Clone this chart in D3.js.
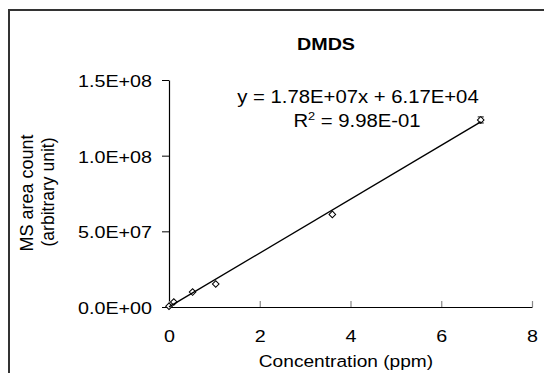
<!DOCTYPE html>
<html>
<head>
<meta charset="utf-8">
<script src="https://cdn.jsdelivr.net/npm/d3@7"></script>
<style>
  body { margin: 0; background: #fff; }
  svg { display: block; }
  text { font-family: "Liberation Sans", Arial, sans-serif; fill: #000; }
</style>
</head>
<body>
<div class="js-chart"></div>
<script>
// data
var conc = [0, 0.106, 0.52, 1.03, 3.6, 6.87];
var area = [0.05e7, 0.33e7, 0.99e7, 1.52e7, 6.12e7, 12.36e7];
var areaErr = [0, 0, 0, 0, 0, 0.2e7];
var slope = 1.78e7, intercept = 6.17e4;
var xTicks = [0, 2, 4, 6, 8];
var yTicks = [0, 5e7, 1e8, 1.5e8];

var W = 544, H = 373;
var STRETCH = 1.16; // the picture is a bit wide

var svg = d3.select('.js-chart').append('svg')
  .attr('width', W)
  .attr('height', H);

// outer frame (runs off right / bottom)
svg.append('rect')
  .attr('x', 9).attr('y', 10)
  .attr('width', 600).attr('height', 420)
  .attr('fill', 'none')
  .attr('stroke', '#333')
  .attr('stroke-width', 2);

var x = d3.scaleLinear().domain([0, 8]).range([169, 532]);
var y = d3.scaleLinear().domain([0, 1.5e8]).range([307, 80]);

// 1.5E+08 style labels
function sciFmt(v, p) {
  var parts = v.toExponential(p == null ? 1 : p).split('e');
  var e = parts[1];
  var digits = e.slice(1);
  if (digits.length < 2) digits = '0' + digits;
  return parts[0] + 'E' + e[0] + digits;
}

// y axis
var yAxis = svg.append('g')
  .attr('transform', 'translate(' + x(0) + ',0)')
  .call(d3.axisLeft(y).tickValues(yTicks).tickFormat(function(d) { return sciFmt(d, 1); })
    .tickSize(7).tickPadding(10).tickSizeOuter(0));
yAxis.select('.domain').attr('stroke', '#000').attr('stroke-width', 1.2);
yAxis.selectAll('.tick line').attr('stroke', '#000');
yAxis.selectAll('text').attr('class', 'hs').style('font-size', '17px').attr('dy', '0.38em');

// x axis, ticks point inward
var xAxis = svg.append('g')
  .attr('transform', 'translate(0,' + y(0) + ')')
  .call(d3.axisBottom(x).tickValues(xTicks).tickFormat(d3.format('d'))
    .tickSizeInner(-6).tickSizeOuter(0).tickPadding(23));
xAxis.select('.domain').attr('stroke', '#000').attr('stroke-width', 1.2);
xAxis.selectAll('.tick line').attr('stroke', '#888').attr('stroke-width', 1.2);
xAxis.selectAll('text').attr('class', 'hs').style('font-size', '17px');

// error bars
var eb = svg.append('g').attr('stroke', '#000').attr('stroke-width', 1);
d3.range(conc.length).filter(function(i) { return areaErr[i] > 0; }).forEach(function(i) {
  var cx = x(conc[i]);
  eb.append('line')
    .attr('x1', cx).attr('x2', cx)
    .attr('y1', y(area[i] - areaErr[i])).attr('y2', y(area[i] + areaErr[i]));
  [area[i] - areaErr[i], area[i] + areaErr[i]].forEach(function(v) {
    eb.append('line')
      .attr('x1', cx - 3).attr('x2', cx + 3)
      .attr('y1', y(v)).attr('y2', y(v));
  });
});

// markers: open diamonds
var diamond = d3.symbol().type(d3.symbolSquare).size(22);
svg.append('g').selectAll('path')
  .data(d3.range(conc.length))
  .enter()
  .append('path')
  .attr('d', diamond)
  .attr('transform', function(i) {
    return 'translate(' + x(conc[i]) + ',' + y(area[i]) + ') rotate(45)';
  })
  .attr('fill', '#fff')
  .attr('stroke', '#000')
  .attr('stroke-width', 1);

// linear trendline across data range
var xMin = d3.min(conc), xMax = d3.max(conc);
svg.append('line')
  .attr('x1', x(xMin)).attr('y1', y(slope * xMin + intercept))
  .attr('x2', x(xMax)).attr('y2', y(slope * xMax + intercept))
  .attr('stroke', '#000')
  .attr('stroke-width', 1.4);

// title
svg.append('text')
  .attr('class', 'hs')
  .attr('x', 326).attr('y', 50)
  .attr('text-anchor', 'middle')
  .style('font-size', '17px')
  .style('font-weight', 'bold')
  .text('DMDS');

// equation
svg.append('text')
  .attr('class', 'hs')
  .attr('x', 358).attr('y', 103)
  .attr('text-anchor', 'middle')
  .style('font-size', '17.5px')
  .text('y = ' + sciFmt(slope, 2) + 'x + ' + sciFmt(intercept, 2));

var r2 = svg.append('text')
  .attr('class', 'hs')
  .attr('x', 357).attr('y', 127.5)
  .attr('text-anchor', 'middle')
  .style('font-size', '17.5px');
r2.append('tspan').text('R');
r2.append('tspan').attr('dy', '-7').style('font-size', '11px').text('2');
r2.append('tspan').attr('dy', '7').text(' = 9.98E-01');

// axis titles
svg.append('text')
  .attr('class', 'hs')
  .attr('x', 346).attr('y', 367)
  .attr('text-anchor', 'middle')
  .style('font-size', '16.5px')
  .text('Concentration (ppm)');

svg.append('text')
  .attr('transform', 'translate(33,193) rotate(-90)')
  .attr('text-anchor', 'middle')
  .style('font-size', '18px')
  .text('MS area count');

svg.append('text')
  .attr('transform', 'translate(54,192) rotate(-90)')
  .attr('text-anchor', 'middle')
  .style('font-size', '17.5px')
  .text('(arbitrary unit)');

// widen horizontal texts around their anchor
svg.selectAll('text.hs').each(function() {
  var ax = +this.getAttribute('x') || 0;
  this.setAttribute('transform', 'translate(' + ax + ',0) scale(' + STRETCH + ',1) translate(' + (-ax) + ',0)');
});
</script>
</body>
</html>
